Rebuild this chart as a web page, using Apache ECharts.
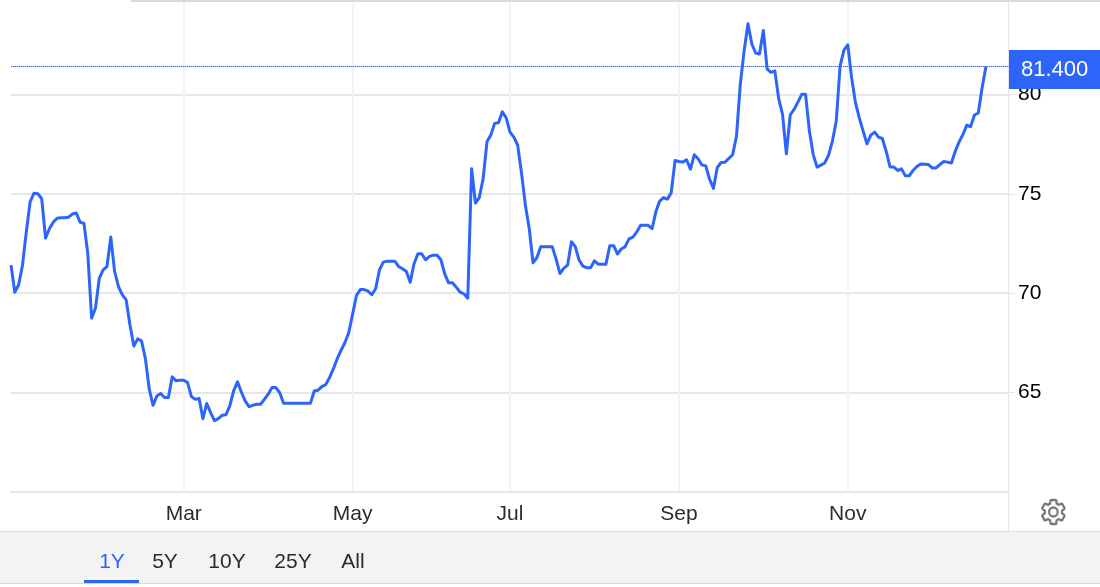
<!DOCTYPE html>
<html><head><meta charset="utf-8">
<style>html,body{margin:0;padding:0;background:#fff}#c{width:1100px;height:587px}</style>
<script src="https://cdn.jsdelivr.net/npm/echarts@6/dist/echarts.min.js"></script>
</head><body><div id="c"></div>
<script>
const tickSlots = [45, 89, 130, 174, 218];
const tickLabels = ['Mar', 'May', 'Jul', 'Sep', 'Nov'];
const slotCount = 261;
const rangeLabels = ['1Y', '5Y', '10Y', '25Y', 'All'];
const lastValue = 81.4;
const values = [
71.42,70.05,70.42,71.42,73.10,74.61,75.03,75.00,74.75,72.77,
73.24,73.57,73.77,73.79,73.79,73.82,73.98,74.03,73.57,73.52,
72.01,68.74,69.24,70.75,71.17,71.34,72.82,71.09,70.33,69.91,
69.66,68.40,67.34,67.70,67.60,66.72,65.20,64.36,64.83,64.95,
64.75,64.75,65.79,65.59,65.62,65.62,65.50,64.80,64.66,64.70,
63.69,64.45,63.99,63.59,63.69,63.86,63.89,64.33,65.08,65.54,
65.03,64.58,64.29,64.36,64.41,64.41,64.66,64.92,65.25,65.25,
65.00,64.46,64.46,64.46,64.46,64.46,64.46,64.46,64.46,65.08,
65.12,65.30,65.40,65.76,66.20,66.71,67.13,67.52,68.02,68.95,
69.88,70.18,70.18,70.10,69.92,70.22,71.18,71.56,71.61,71.61,
71.61,71.34,71.23,71.09,70.55,71.48,71.98,71.98,71.68,71.85,
71.91,71.91,71.68,70.97,70.52,70.52,70.30,70.05,69.97,69.75,
76.26,74.53,74.81,75.76,77.61,77.95,78.54,78.57,79.12,78.82,
78.10,77.85,77.44,76.04,74.44,73.27,71.53,71.78,72.34,72.34,null,
72.34,71.72,70.99,71.25,71.41,72.59,72.34,71.67,71.36,71.28,
71.28,71.63,71.46,71.46,71.46,72.39,72.39,71.97,72.22,72.34,
72.73,72.82,73.07,73.41,73.41,73.41,73.24,74.09,74.63,74.81,
74.73,75.05,76.67,76.62,76.59,76.71,76.23,76.96,76.76,76.45,
76.40,75.73,75.27,76.32,76.57,76.59,null,76.96,77.89,80.51,82.20,
83.55,82.53,82.08,82.03,83.21,81.27,81.10,81.18,79.78,78.99,
77.01,78.96,79.24,79.61,80.00,80.00,78.15,76.97,76.34,76.44,
76.55,76.94,77.65,78.66,81.43,82.22,82.49,80.84,79.58,78.82,
78.15,77.51,77.95,78.10,77.85,77.78,77.14,76.35,76.34,76.17,
76.25,75.90,75.90,76.17,76.37,76.50,null,76.47,76.30,76.30,76.47,
76.62,76.59,76.55,77.14,77.61,77.98,78.45,78.37,78.96,79.06,
80.34,lastValue
];
const categories = [];
for (let i = 0; i < slotCount; i++) {
  const t = tickSlots.indexOf(i);
  categories.push(t >= 0 ? tickLabels[t] : '');
}
const BLUE = '#2d65fb', GRID = '#e7e7e7', VGRID = '#f0f3f8', FONT = '"Liberation Sans", Arial, sans-serif';
const isTick = i => tickSlots.indexOf(i) >= 0;
const rangeX = [112, 165, 227, 293, 353];
const gear = 'M19.14 12.94c.04-.3.06-.61.06-.94 0-.32-.02-.64-.07-.94l2.03-1.58c.18-.14.23-.41.12-.61l-1.92-3.32c-.12-.22-.37-.29-.59-.22l-2.39.96c-.5-.38-1.03-.7-1.62-.94l-.36-2.54c-.04-.24-.24-.41-.48-.41h-3.84c-.24 0-.43.17-.47.41l-.36 2.54c-.59.24-1.13.57-1.62.94l-2.39-.96c-.22-.08-.47 0-.59.22L2.74 8.87c-.12.21-.08.47.12.61l2.03 1.58c-.05.3-.09.63-.09.94s.02.64.07.94l-2.03 1.58c-.18.14-.23.41-.12.61l1.92 3.32c.12.22.37.29.59.22l2.39-.96c.5.38 1.03.7 1.62.94l.36 2.54c.05.24.24.41.48.41h3.84c.24 0 .44-.17.47-.41l.36-2.54c.59-.24 1.13-.56 1.62-.94l2.39.96c.22.08.47 0 .59-.22l1.92-3.32c.12-.22.07-.47-.12-.61l-2.01-1.58zM12 15.6c-1.98 0-3.6-1.62-3.6-3.6s1.62-3.6 3.6-3.6 3.6 1.62 3.6 3.6-1.62 3.6-3.6 3.6z';
echarts.graphic.registerShape('gearIcon', echarts.graphic.extendPath(gear, {}));
const chart = echarts.init(document.getElementById('c'), null, {renderer: 'canvas'});
const graphics = [
  {type: 'rect', shape: {x: 131, y: 0, width: 969, height: 2}, style: {fill: '#d9d9d9'}, silent: true},
  {type: 'rect', shape: {x: 1008, y: 2, width: 1, height: 529}, style: {fill: '#e7e7e7'}, silent: true},
  {type: 'rect', shape: {x: 0, y: 531, width: 1100, height: 53}, style: {fill: '#f3f3f3'}, silent: true},
  {type: 'rect', shape: {x: 0, y: 531, width: 1100, height: 1}, style: {fill: '#dedede'}, silent: true},
  {type: 'rect', shape: {x: 0, y: 583, width: 1100, height: 1}, style: {fill: '#d6d6d6'}, silent: true},
  {type: 'rect', shape: {x: 84, y: 580, width: 55, height: 3}, style: {fill: BLUE}, silent: true},
  {type: 'gearIcon', x: 1039, y: 497, scaleX: 1.2, scaleY: 1.25,
   style: {fill: 'none', stroke: '#7a7a7a', lineWidth: 1.9}, silent: true}
];
rangeLabels.forEach((t, i) => graphics.push({
  type: 'text', x: rangeX[i], y: 562, silent: true,
  style: {text: t, fill: i === 0 ? BLUE : '#2b2b2b', font: '21px ' + FONT, align: 'center', verticalAlign: 'middle'}
}));
const dotStyle = {color: '#2d65fb', type: [1.4, 0.6], width: 1, opacity: 1};
chart.setOption({
  animation: false,
  backgroundColor: '#fff',
  grid: {left: 11, right: 91, top: 2, bottom: 95, containLabel: false},
  xAxis: {
    type: 'category', data: categories, boundaryGap: false,
    axisLine: {show: true, lineStyle: {color: GRID, width: 2}},
    axisTick: {show: false},
    axisLabel: {interval: i => isTick(i), color: '#2b2b2b', fontFamily: FONT, fontSize: 21, margin: 12, hideOverlap: false},
    splitLine: {show: true, interval: i => isTick(i), lineStyle: {color: VGRID, width: 2}}
  },
  yAxis: {
    type: 'value', position: 'right', min: 60, max: 84.644, interval: 5,
    axisLine: {show: false},
    axisTick: {show: true, length: 6, lineStyle: {color: GRID, width: 1}},
    axisLabel: {color: '#000', fontFamily: FONT, fontSize: 21, margin: 9, showMinLabel: false, showMaxLabel: false,
                formatter: v => (v % 5 === 0 ? String(v) : '')},
    splitLine: {show: true, showMaxLine: false, lineStyle: {color: GRID, width: 2}}
  },
  series: [{
    type: 'line', data: values, connectNulls: true, showSymbol: false, smooth: false,
    lineStyle: {color: BLUE, width: 3, join: 'round'}, itemStyle: {color: BLUE}, silent: true, z: 5,
    markLine: {
      silent: true, symbol: 'none', animation: false, z: 20, precision: 3,
      lineStyle: dotStyle,
      data: [{yAxis: lastValue, lineStyle: dotStyle}],
      label: {show: true, position: 'end', distance: 0, formatter: lastValue.toFixed(3),
        color: '#fff', backgroundColor: BLUE, fontFamily: FONT, fontSize: 22,
        padding: [9, 13, 8, 12], offset: [0, 3]}
    }
  }],
  graphic: graphics
});
</script></body></html>
